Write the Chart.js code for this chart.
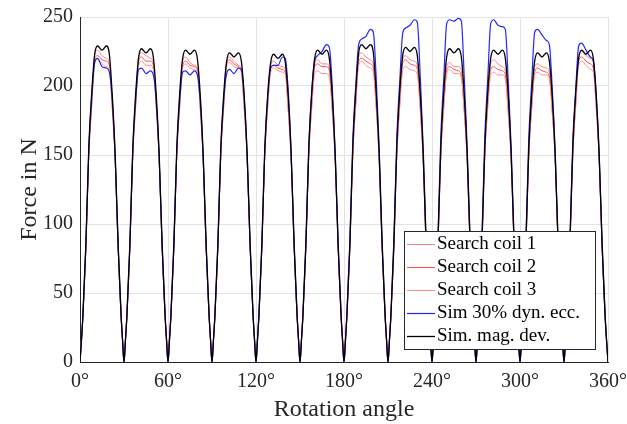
<!DOCTYPE html>
<html>
<head>
<meta charset="utf-8">
<script src="https://cdn.jsdelivr.net/npm/chart.js@4/dist/chart.umd.min.js"></script>
<style>
	html, body { margin: 0; padding: 0; background: #ffffff; }
	#wrap { width: 627px; height: 424px; }
</style>
</head>
<body>
<div id="wrap"><canvas id="chart" width="627" height="424"></canvas></div>
<script>

// rotation angle in degrees, 12 pulses of 30 deg
const angles = [
	0, 1, 2, 4, 6, 8, 10, 12, 15, 18, 20, 22, 24, 26, 28, 29,
	30, 31, 32, 34, 36, 38, 40, 42, 45, 48, 50, 52, 54, 56, 58, 59,
	60, 61, 62, 64, 66, 68, 70, 72, 75, 78, 80, 82, 84, 86, 88, 89,
	90, 91, 92, 94, 96, 98, 100, 102, 105, 108, 110, 112, 114, 116, 118, 119,
	120, 121, 122, 124, 126, 128, 130, 132, 135, 138, 140, 142, 144, 146, 148, 149,
	150, 151, 152, 154, 156, 158, 160, 162, 165, 168, 170, 172, 174, 176, 178, 179,
	180, 181, 182, 184, 186, 188, 190, 192, 195, 198, 200, 202, 204, 206, 208, 209,
	210, 211, 212, 214, 216, 218, 220, 222, 225, 228, 230, 232, 234, 236, 238, 239,
	240, 241, 242, 244, 246, 248, 250, 252, 255, 258, 260, 262, 264, 266, 268, 269,
	270, 271, 272, 274, 276, 278, 280, 282, 285, 288, 290, 292, 294, 296, 298, 299,
	300, 301, 302, 304, 306, 308, 310, 312, 315, 318, 320, 322, 324, 326, 328, 329,
	330, 331, 332, 334, 336, 338, 340, 342, 345, 348, 350, 352, 354, 356, 358, 359,
	360
];

const coil1 = [
	0, 16, 34, 83, 150, 188, 222, 226, 222, 220, 217, 186, 146, 83, 34, 16,
	0, 16, 34, 83, 150, 188, 221, 224, 222, 220, 217, 186, 146, 83, 34, 16,
	0, 16, 34, 83, 150, 188, 218, 221, 217, 215, 213, 185, 146, 83, 34, 16,
	0, 16, 34, 83, 150, 188, 218, 221, 218, 215, 212, 185, 146, 83, 34, 16,
	0, 16, 34, 83, 150, 187, 215, 218, 215, 214, 212, 185, 146, 83, 34, 16,
	0, 16, 34, 83, 150, 188, 216, 219, 216, 216, 213, 186, 146, 83, 34, 16,
	0, 16, 34, 83, 150, 189, 221, 224, 221, 219, 216, 187, 146, 83, 34, 16,
	0, 16, 34, 83, 150, 189, 219, 222, 219, 218, 215, 186, 146, 83, 34, 16,
	0, 16, 34, 83, 150, 187, 214, 217, 214, 214, 211, 184, 146, 83, 34, 16,
	0, 16, 34, 83, 150, 188, 216, 219, 216, 214, 211, 184, 146, 83, 34, 16,
	0, 16, 34, 83, 150, 187, 214, 216, 214, 213, 210, 184, 146, 83, 34, 16,
	0, 16, 34, 83, 150, 189, 222, 225, 222, 220, 217, 187, 146, 83, 34, 16,
	0
];

const coil2 = [
	0, 16, 34, 83, 150, 187, 219, 222, 219, 218, 215, 185, 146, 83, 34, 16,
	0, 16, 34, 83, 150, 187, 218, 221, 218, 218, 215, 185, 146, 83, 34, 16,
	0, 16, 34, 83, 150, 186, 215, 218, 215, 214, 212, 184, 146, 83, 34, 16,
	0, 16, 34, 83, 150, 186, 216, 219, 216, 214, 211, 184, 146, 83, 34, 16,
	0, 16, 34, 83, 150, 186, 213, 215, 213, 212, 210, 183, 146, 83, 34, 16,
	0, 16, 34, 83, 150, 186, 214, 216, 214, 214, 211, 184, 146, 83, 34, 16,
	0, 16, 34, 83, 150, 187, 218, 220, 218, 216, 213, 185, 146, 83, 34, 16,
	0, 16, 34, 83, 150, 187, 216, 219, 216, 215, 212, 184, 146, 83, 34, 16,
	0, 16, 34, 83, 150, 186, 211, 214, 212, 211, 208, 182, 146, 83, 34, 16,
	0, 16, 34, 83, 150, 186, 212, 214, 212, 211, 208, 182, 146, 83, 34, 16,
	0, 16, 34, 83, 150, 185, 210, 213, 211, 210, 207, 182, 146, 83, 34, 16,
	0, 16, 34, 83, 150, 187, 218, 221, 218, 216, 213, 185, 146, 83, 34, 16,
	0
];

const coil3 = [
	0, 16, 34, 83, 150, 186, 216, 220, 216, 214, 212, 184, 146, 83, 34, 16,
	0, 16, 34, 83, 150, 186, 215, 218, 215, 215, 212, 184, 146, 83, 34, 16,
	0, 16, 34, 83, 150, 185, 213, 216, 213, 212, 210, 183, 146, 83, 34, 16,
	0, 16, 34, 83, 150, 185, 214, 217, 214, 213, 210, 183, 146, 83, 34, 16,
	0, 16, 34, 83, 150, 185, 210, 213, 211, 210, 208, 182, 146, 83, 34, 16,
	0, 16, 34, 83, 150, 184, 209, 211, 209, 209, 206, 181, 146, 83, 34, 16,
	0, 16, 34, 83, 150, 186, 215, 218, 215, 213, 210, 183, 146, 83, 34, 16,
	0, 16, 34, 83, 150, 185, 211, 214, 212, 211, 208, 182, 146, 83, 34, 16,
	0, 16, 34, 83, 150, 184, 209, 212, 209, 209, 206, 181, 146, 83, 34, 16,
	0, 16, 34, 83, 150, 184, 208, 210, 208, 208, 205, 180, 146, 83, 34, 16,
	0, 16, 34, 83, 150, 184, 208, 210, 208, 208, 205, 180, 146, 83, 34, 16,
	0, 16, 34, 83, 150, 186, 215, 218, 215, 212, 210, 183, 146, 83, 34, 16,
	0
];

const simEcc = [
	0, 16, 34, 85, 154, 192, 217, 220, 214, 213, 210, 190, 148, 84, 34, 16,
	0, 16, 34, 85, 154, 191, 212, 213, 209, 211, 208, 189, 148, 84, 34, 16,
	0, 16, 34, 85, 154, 190, 210, 211, 208, 211, 208, 189, 148, 84, 34, 16,
	0, 16, 34, 85, 154, 190, 209, 212, 209, 213, 212, 191, 149, 84, 34, 16,
	0, 16, 34, 85, 154, 192, 213, 215, 215, 221, 220, 196, 150, 85, 34, 16,
	0, 16, 34, 86, 156, 196, 218, 222, 225, 230, 228, 200, 152, 86, 34, 16,
	0, 16, 35, 87, 160, 200, 230, 234, 236, 241, 239, 205, 155, 87, 35, 16,
	0, 16, 35, 88, 162, 203, 238, 242, 244, 248, 246, 207, 156, 88, 35, 16,
	0, 16, 35, 88, 163, 205, 245, 248, 247, 249, 247, 206, 156, 88, 35, 16,
	0, 16, 35, 88, 163, 205, 245, 248, 244, 243, 241, 203, 155, 87, 35, 16,
	0, 16, 35, 88, 162, 203, 239, 241, 237, 233, 230, 198, 152, 86, 34, 16,
	0, 16, 35, 87, 160, 198, 229, 231, 226, 221, 218, 192, 150, 85, 34, 16,
	0
];

const simMag = [
	0, 16, 34, 85, 155, 195, 223, 229, 226, 229, 223, 193, 150, 85, 34, 16,
	0, 16, 34, 85, 155, 195, 221, 227, 224, 227, 221, 193, 150, 85, 34, 16,
	0, 16, 34, 85, 155, 195, 220, 226, 223, 226, 220, 193, 150, 85, 34, 16,
	0, 16, 34, 85, 155, 194, 218, 224, 221, 224, 218, 192, 150, 85, 34, 16,
	0, 16, 34, 85, 155, 194, 217, 223, 220, 223, 217, 192, 150, 85, 34, 16,
	0, 16, 34, 85, 155, 195, 220, 226, 223, 226, 220, 193, 150, 85, 34, 16,
	0, 16, 34, 85, 156, 196, 224, 230, 227, 230, 224, 194, 150, 85, 34, 16,
	0, 16, 34, 85, 156, 196, 222, 228, 225, 228, 222, 194, 150, 85, 34, 16,
	0, 16, 34, 85, 155, 195, 221, 227, 224, 227, 221, 193, 150, 85, 34, 16,
	0, 16, 34, 85, 155, 195, 220, 226, 223, 226, 220, 193, 150, 85, 34, 16,
	0, 16, 34, 85, 155, 194, 218, 224, 221, 224, 218, 192, 150, 85, 34, 16,
	0, 16, 34, 85, 155, 195, 220, 226, 223, 226, 220, 193, 150, 85, 34, 16,
	0
];

const seriesLabels = ['Search coil 1', 'Search coil 2', 'Search coil 3', 'Sim 30% dyn. ecc.', 'Sim. mag. dev.'];
const xTicks = [0, 60, 120, 180, 240, 300, 360];
const yTicks = [0, 50, 100, 150, 200, 250];

const textColor = '#262626';
const gridColor = '#e3e3e3';
const serif = "'Liberation Serif', 'DejaVu Serif', serif";


function points(values) {
	return values.map((v, i) => ({x: angles[i], y: v}));
}

function dataset(label, values, color, width, order) {
	return {
		label: label,
		data: points(values),
		borderColor: color,
		backgroundColor: color,
		borderWidth: width,
		pointRadius: 0,
		fill: false,
		cubicInterpolationMode: 'monotone',
		order: order
	};
}


// legend drawn inside the plot area, bottom right, like the original
const innerLegend = {
	id: 'innerLegend',
	afterDraw(chart) {
		const ctx = chart.ctx;
		const area = chart.chartArea;
		const right = area.right - 12, bottom = area.bottom - 12;
		const w = 192, h = 119, rowH = 23;
		const left = right - w, top = bottom - h;

		ctx.save();
		ctx.fillStyle = '#ffffff';
		ctx.fillRect(left, top, w, h);
		ctx.strokeStyle = textColor;
		ctx.lineWidth = 1;
		ctx.strokeRect(left + 0.5, top + 0.5, w - 1, h - 1);

		ctx.font = '19px ' + serif;
		ctx.textBaseline = 'middle';
		ctx.fillStyle = '#000000';

		chart.data.datasets.forEach((ds, i) => {
			const y = top + 13 + i * rowH;
			ctx.beginPath();
			ctx.strokeStyle = ds.borderColor;
			ctx.lineWidth = ds.borderWidth;
			ctx.moveTo(left + 3, y + 0.5);
			ctx.lineTo(left + 31, y + 0.5);
			ctx.stroke();
			ctx.fillText(ds.label, left + 33, y);
		});
		ctx.restore();
	}
};


new Chart(document.getElementById('chart'), {
	type: 'line',
	data: {
		datasets: [
			dataset(seriesLabels[0], coil1, '#ff8080', 1, 4),
			dataset(seriesLabels[1], coil2, '#ff5050', 1, 3),
			dataset(seriesLabels[2], coil3, '#ff9090', 1, 2),
			dataset(seriesLabels[3], simEcc, '#2424ff', 1.2, 1),
			dataset(seriesLabels[4], simMag, '#000000', 1.3, 0)
		]
	},
	options: {
		responsive: false,
		animation: false,
		layout: {padding: {top: 17, right: 19, left: 0, bottom: 0}},
		plugins: {
			legend: {display: false},
			tooltip: {enabled: false}
		},
		scales: {
			x: {
				type: 'linear',
				min: 0,
				max: 360,
				afterFit(scale) {
					scale.height = 62;
					scale.paddingLeft = 0;
					scale.paddingRight = 0;
				},
				afterBuildTicks(scale) { scale.ticks = xTicks.map(v => ({value: v})); },
				ticks: {
					color: textColor,
					padding: 8,
					maxRotation: 0,
					font: {family: serif, size: 20},
					callback: (v) => v + '°'
				},
				grid: {color: gridColor, drawTicks: false},
				border: {color: textColor, width: 1},
				title: {
					display: true,
					text: 'Rotation angle',
					color: textColor,
					font: {family: serif, size: 24},
					padding: {top: 0, bottom: 0}
				}
			},
			y: {
				min: 0,
				max: 250,
				afterFit(scale) {
					scale.width = 80;
					scale.paddingTop = 0;
					scale.paddingBottom = 0;
				},
				afterBuildTicks(scale) { scale.ticks = yTicks.map(v => ({value: v})); },
				ticks: {
					color: textColor,
					padding: 7,
					font: {family: serif, size: 20}
				},
				grid: {color: gridColor, drawTicks: false},
				border: {color: textColor, width: 1},
				title: {
					display: true,
					text: 'Force in N',
					color: textColor,
					font: {family: serif, size: 24},
					padding: {top: 15, bottom: 0}
				}
			}
		}
	},
	plugins: [innerLegend]
});

</script>
</body>
</html>
